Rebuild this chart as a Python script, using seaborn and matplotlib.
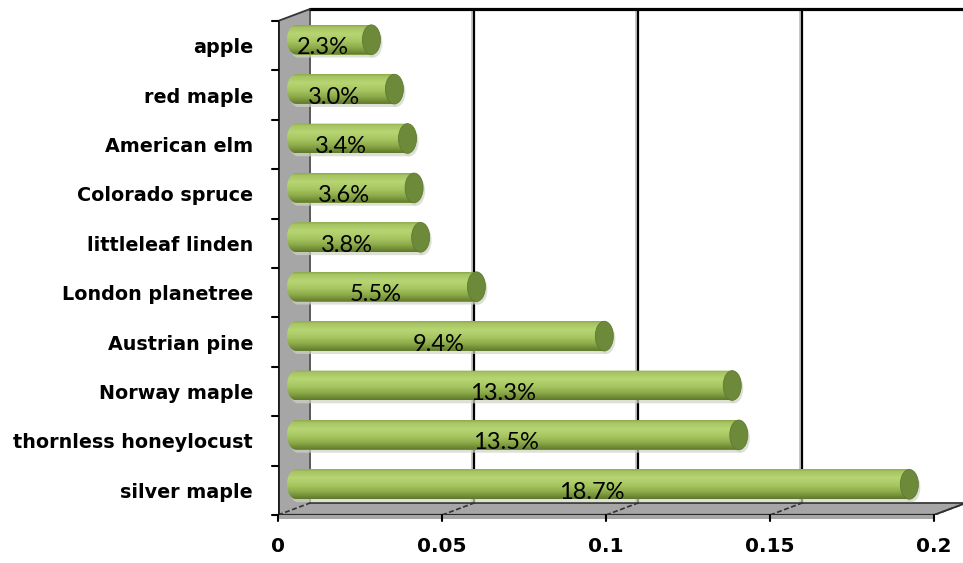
import numpy as np
import pandas as pd
import matplotlib
matplotlib.use("Agg")
import matplotlib.pyplot as plt
import seaborn as sns
from matplotlib.patches import Polygon, Ellipse, PathPatch
from matplotlib.path import Path
from matplotlib.colors import LinearSegmentedColormap
from matplotlib.transforms import Affine2D

# ---- data -------------------------------------------------------------
species = [
    "apple", "red maple", "American elm", "Colorado spruce",
    "littleleaf linden", "London planetree", "Austrian pine",
    "Norway maple", "thornless honeylocust", "silver maple",
]
shares = [0.023, 0.030, 0.034, 0.036, 0.038, 0.055, 0.094, 0.133, 0.135, 0.187]
x_ticks = [0, 0.05, 0.1, 0.15, 0.2]
x_tick_labels = ["0", "0.05", "0.1", "0.15", "0.2"]

df = pd.DataFrame({"species": species, "share": shares})

# ---- style ------------------------------------------------------------
sns.set_style("white")
plt.rcParams["font.family"] = ["Lato", "DejaVu Sans"]
axis_font = ["DejaVu Sans"]

W, H = 963, 563
fig = plt.figure(figsize=(W / 100, H / 100), dpi=100)

# pixel geometry of the front plane
X0_PX, FLOOR_PX, TOP_PX = 278, 515, 21
PX_PER_UNIT = 3280.0
ROW_PX = (FLOOR_PX - TOP_PX) / len(species)


def px_x(n):
    return n / PX_PER_UNIT


def px_y(n):
    return n / ROW_PX


ax = fig.add_axes([X0_PX / W, (H - FLOOR_PX) / H, (W - X0_PX) / W, FLOOR_PX / H])

# depth offset of the back plane
DX, DY = px_x(32), px_y(-12)
n = len(species)
y_top, y_floor = -0.5, n - 0.5
x_max = px_x(W - X0_PX)

# ---- bars --------------------------------------------------------------
sns.barplot(data=df, x="share", y="species", orient="h", width=0.6,
            color="#9bbb59", saturation=1, linewidth=0, ax=ax, zorder=2)
bars = list(ax.patches)

body_cmap = LinearSegmentedColormap.from_list(
    "cyl",
    [(0.0, "#88a54b"), (0.08, "#a6c562"), (0.3, "#b7d573"), (0.55, "#a6c661"),
     (0.75, "#8eab4a"), (0.9, "#718d37"), (1.0, "#5e772c")],
)
grad = np.linspace(0, 1, 256).reshape(-1, 1)
rx = px_x(9)
bar_dx = DX / 2 + px_x(2)
shift = Affine2D().translate(bar_dx, DY / 2)

for p in bars:
    x0, y0, w, h = p.get_x(), p.get_y(), p.get_width(), p.get_height()
    p.set_transform(shift + ax.transData)
    sx, sy = x0 + bar_dx, y0 + DY / 2
    yc = sy + h / 2
    t = np.linspace(-np.pi / 2, np.pi / 2, 60)
    verts = list(zip(sx - rx * np.cos(t), yc + (h / 2) * np.sin(t)))
    verts += [(sx + w, yc + h / 2), (sx + w, yc - h / 2), verts[0]]
    codes = [Path.MOVETO] + [Path.LINETO] * (len(verts) - 2) + [Path.CLOSEPOLY]
    body = Path(verts, codes)

    # soft drop shadow
    ax.add_patch(Polygon(np.array(verts) + [px_x(2), px_y(3)], closed=True,
                         fc="#cfd3c4", ec="none", alpha=0.7, zorder=1.6))
    ax.add_patch(Ellipse((sx + w + px_x(2), yc + px_y(3)), 2 * rx, h,
                         fc="#cfd3c4", ec="none", alpha=0.7, zorder=1.6))

    clip = PathPatch(body, fc="none", ec="none", transform=ax.transData)
    ax.add_patch(clip)
    im = ax.imshow(grad, cmap=body_cmap, aspect="auto", origin="upper",
                   extent=(sx - rx, sx + w, sy + h, sy), zorder=3,
                   interpolation="bilinear")
    im.set_clip_path(clip)
    ax.add_patch(Ellipse((sx + w, yc), 2 * rx, h, fc="#6c8a3a",
                         ec="#5f7a30", lw=0.6, zorder=4))

# value labels
for i, v in enumerate(shares):
    ax.text(v / 2 + px_x(7), i + px_y(2), f"{v * 100:.1f}%", ha="center", va="center",
            fontsize=17, color="black", zorder=6)

# ---- 3D frame ----------------------------------------------------------
wall_gray = "#a6a6a6"
# left wall
ax.add_patch(Polygon([(0, y_top), (DX, y_top + DY), (DX, y_floor + DY), (0, y_floor)],
                     closed=True, fc=wall_gray, ec="none", zorder=0.5))
ax.plot([DX, DX], [y_top + DY, y_floor + DY], color="#595959", lw=1.4, zorder=0.6)
# floor (top face and thin front face)
ax.add_patch(Polygon([(0, y_floor), (0.2, y_floor), (0.2 + DX, y_floor + DY), (DX, y_floor + DY)],
                     closed=True, fc=wall_gray, ec="none", zorder=0.5))
ax.add_patch(Polygon([(0, y_floor), (0.2, y_floor), (0.2, y_floor + px_y(4)), (0, y_floor + px_y(4))],
                     closed=True, fc=wall_gray, ec="none", zorder=0.5, clip_on=False))
ax.plot([DX, 0.2 + DX], [y_floor + DY] * 2, color="#3a3a3a", lw=1.3, zorder=0.7)
ax.plot([0, 0.2], [y_floor] * 2, color="#2a2a2a", lw=1.6, zorder=0.7)
ax.plot([0.2, 0.2 + DX], [y_floor, y_floor + DY], color="#2a2a2a", lw=1.3, zorder=0.7)

# back-wall gridlines and floor guides
for v in x_ticks:
    if v > 0:
        ax.plot([v + DX - px_x(2)] * 2, [y_top + DY, y_floor + DY], color="#bdbdbd",
                lw=1.2, zorder=0.55)
        ax.plot([v + DX] * 2, [y_top + DY, y_floor + DY], color="black", lw=1.6, zorder=0.6)
    ax.plot([v, v + DX], [y_floor, y_floor + DY], color="#333333", lw=1.2,
            ls=(0, (3, 1.5)), zorder=0.7)
    ax.plot([v, v], [y_floor, y_floor + px_y(6)], color="black", lw=1.5,
            zorder=0.8, clip_on=False)

# top edge of back wall
ax.plot([DX, x_max], [y_top + DY] * 2, color="black", lw=2.3, zorder=0.7, clip_on=False)
ax.plot([0, DX], [y_top, y_top + DY], color="#333333", lw=1.3, zorder=0.7)

# front vertical axis line and row ticks
ax.plot([0, 0], [y_top, y_floor], color="#1a1a1a", lw=2.0, zorder=0.9)
for b in np.arange(y_top, y_floor + 0.01, 1.0):
    ax.plot([-px_x(6), 0], [b, b], color="black", lw=1.5, zorder=0.9, clip_on=False)

# ---- axes --------------------------------------------------------------
ax.set_xlim(0, x_max)
ax.set_ylim(y_floor, y_top - px_y(TOP_PX))
ax.set_xticks(x_ticks)
ax.set_xticklabels(x_tick_labels, fontweight="bold", fontsize=14.5, family=axis_font)
ax.set_yticks(range(n))
ax.set_yticklabels(species, fontweight="bold", fontsize=13.8, family=axis_font)
ax.tick_params(axis="x", length=0, pad=16, labelcolor="black")
ax.tick_params(axis="y", length=0, pad=18, labelcolor="black")
ax.set_xlabel("")
ax.set_ylabel("")
for s in ax.spines.values():
    s.set_visible(False)
ax.patch.set_alpha(0)

fig.savefig("out.png", dpi=100)
